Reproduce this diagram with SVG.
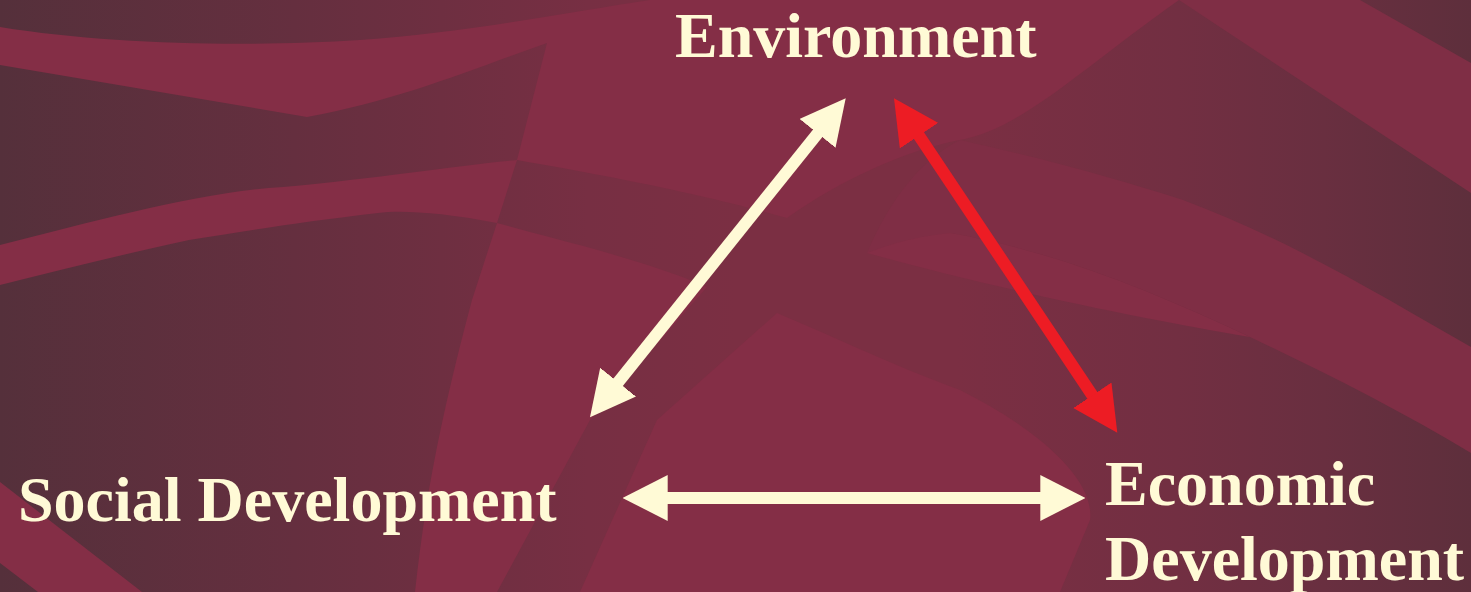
<svg xmlns="http://www.w3.org/2000/svg" width="1471" height="592" viewBox="0 0 1471 592">
  <defs>
    <linearGradient id="bg" x1="0" y1="0" x2="1471" y2="0" gradientUnits="userSpaceOnUse">
      <stop offset="0" stop-color="#55303B"/>
      <stop offset="0.2" stop-color="#652F3F"/>
      <stop offset="0.4" stop-color="#772F43"/>
      <stop offset="0.5" stop-color="#7B2F43"/>
      <stop offset="0.65" stop-color="#7B2F43"/>
      <stop offset="0.8" stop-color="#722F42"/>
      <stop offset="0.9" stop-color="#692F40"/>
      <stop offset="1" stop-color="#5E2F3C"/>
    </linearGradient>
    <marker id="headCream" markerUnits="userSpaceOnUse" viewBox="0 0 45 46" refX="25" refY="23" markerWidth="45" markerHeight="46" orient="auto-start-reverse">
      <path d="M0,0 L45,23 L0,46 Z" fill="#FFFAD6"/>
    </marker>
    <marker id="headRed" markerUnits="userSpaceOnUse" viewBox="0 0 45 46" refX="25" refY="23" markerWidth="45" markerHeight="46" orient="auto-start-reverse">
      <path d="M0,0 L45,23 L0,46 Z" fill="#ED1C24"/>
    </marker>
  </defs>
  <style>
    .band { fill: #842E46; }
    .band2 { fill: #7F2E45; }
    .label { font-family: "Liberation Serif", "Times New Roman", serif; font-weight: bold; font-size: 64px; fill: #FFFAD6; }
    .arrow { fill: none; stroke-width: 12; }
    .cream { stroke: #FFFAD6; marker-start: url(#headCream); marker-end: url(#headCream); }
    .red { stroke: #ED1C24; marker-start: url(#headRed); marker-end: url(#headRed); }
  </style>

  <g id="background">
    <rect x="0" y="0" width="1471" height="592" fill="url(#bg)"/>
    <!-- top-left band merging into top centre -->
    <path class="band" d="M0,27 C110,45 250,47 360,40 C470,32 570,12 650,0 L1179,0 C1080,70 1020,130 960,140 C907,150 840,180 787,218 C740,205 673,187 517,160 L547,43 C470,70 400,100 307,117 L0,65 Z"/>
    <!-- middle-left band -->
    <path class="band" d="M0,245 C100,220 200,192 283,187 C380,178 460,165 517,160 L497,223 C440,212 400,210 378,213 C300,222 240,232 189,240 C120,255 60,270 0,285 Z"/>
    <!-- beam / lower-left light area -->
    <path class="band" d="M497,223 C530,232 560,240 587,247 C640,262 680,275 707,287 L590,420 L497,592 L415,592 C425,500 440,420 472,300 Z"/>
    <!-- bottom-left band -->
    <path class="band" d="M0,482 L142,592 L38,592 L0,563 Z"/>
    <!-- lower centre light area -->
    <path class="band" d="M580,592 L657,420 L777,313 C830,335 880,360 960,390 C1040,430 1095,480 1090,520 L1060,592 Z"/>
    <!-- right sweeping band -->
    <path class="band2" d="M960,140 C1050,160 1120,180 1183,200 C1290,240 1380,295 1471,347 L1471,453 C1400,410 1320,370 1250,337 C1150,290 1050,250 950,233 C920,240 890,246 867,253 C890,200 920,160 960,140 Z"/>
    <path class="band" d="M867,253 C900,240 930,235 950,233 C1050,250 1150,290 1250,337 C1150,320 1000,290 867,253 Z"/>
    <!-- top-right band -->
    <path class="band2" d="M1179,0 L1360,0 L1471,63 L1471,193 Z"/>
  </g>

  <g id="connectors">
    <line class="arrow cream" x1="602.5" y1="401.7" x2="833.2" y2="113.9"/>
    <line class="arrow red" x1="905.1" y1="114.9" x2="1106.2" y2="416.1"/>
    <line class="arrow cream" x1="642.7" y1="498" x2="1065.3" y2="498"/>
  </g>

  <g id="node-environment">
    <text class="label" x="675" y="57">Environment</text>
  </g>
  <g id="node-social">
    <text class="label" x="18" y="521">Social Development</text>
  </g>
  <g id="node-economic">
    <text class="label" x="1105" y="505">Economic</text>
    <text class="label" x="1105" y="580">Development</text>
  </g>
</svg>
